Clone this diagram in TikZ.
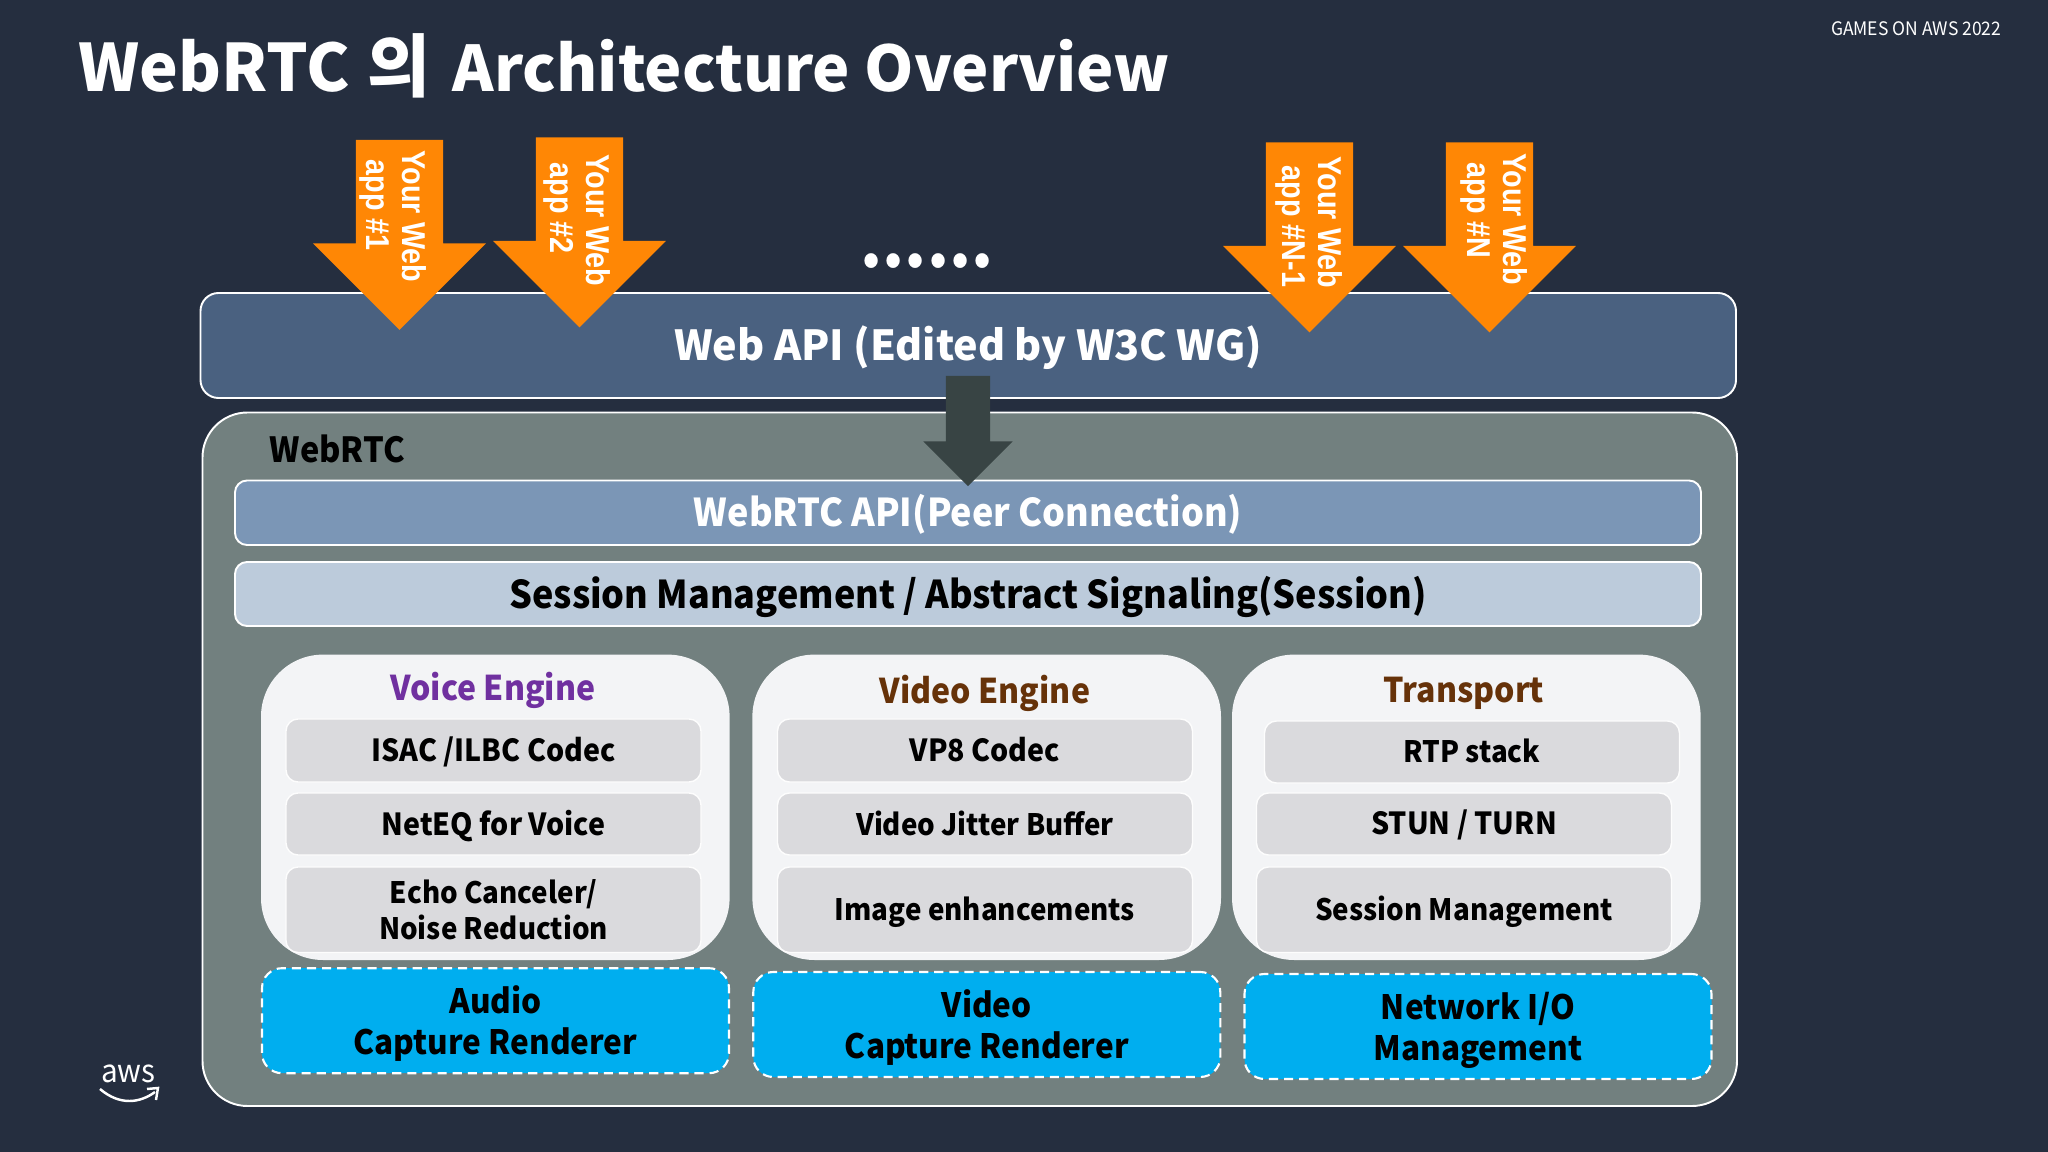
\documentclass[tikz,border=0pt]{standalone}
\usepackage{fontspec}
\setmainfont{Noto Sans CJK KR}[FakeStretch=0.94]
\newfontfamily\widefont{Noto Sans CJK KR}
\newfontfamily\appfont{Liberation Sans}[FakeStretch=0.87]
\usetikzlibrary{arrows.meta,shapes.arrows}
\definecolor{pagebg}{HTML}{252E3F}
\definecolor{webapifill}{HTML}{4A6180}
\definecolor{shellfill}{HTML}{72807F}
\definecolor{rtcapifill}{HTML}{7B96B6}
\definecolor{sessionfill}{HTML}{BCCBDB}
\definecolor{enginefill}{HTML}{F3F4F6}
\definecolor{itemfill}{HTML}{DADADD}
\definecolor{iofill}{HTML}{00AEEF}
\definecolor{apporange}{HTML}{FF8705}
\definecolor{downfill}{HTML}{384444}
\definecolor{voicetext}{HTML}{7030A0}
\definecolor{brownhead}{HTML}{663209}
\newcommand{\pxsize}[2]{\fontsize{#1pt}{#2pt}\selectfont}

\begin{document}
\begin{tikzpicture}[
    y=-1cm,
    band/.style={rectangle, draw=white, line width=0.55pt, rounded corners=0.12cm, inner sep=0pt, align=center, text depth=2pt, font=\pxsize{10.9}{14}\bfseries},
    engine/.style={rectangle, fill=enginefill, rounded corners=0.62cm, minimum width=4.686cm, minimum height=3.054cm},
    enginehead/.style={font=\pxsize{9.7}{12}\bfseries, inner sep=0pt},
    item/.style={rectangle, draw=white!95!itemfill, fill=itemfill, line width=0.4pt, rounded corners=0.12cm, minimum width=4.15cm, inner sep=0pt, align=center, text height=8.2pt, text depth=2pt, font=\pxsize{8.65}{10.5}\bfseries},
    itemsmall/.style={item, font=\pxsize{8.4}{10.5}\bfseries},
    iobox/.style={rectangle, draw=white, dash pattern=on 2.6pt off 1.7pt, fill=iofill, line width=0.6pt, rounded corners=0.2cm, minimum width=4.67cm, minimum height=1.05cm, inner sep=0pt, align=center, text height=21.1pt, text depth=2pt, font=\pxsize{9.55}{11.6}\bfseries},
    apparrow/.style={single arrow, fill=apporange, rotate=-90, inner xsep=0pt, inner ysep=0.43cm, minimum width=1.715cm, minimum height=1.9cm, single arrow head extend=0.4275cm, single arrow tip angle=90},
    applabel/.style={rotate=-90, anchor=north west, inner sep=0pt, align=left, text=white, font=\appfont\pxsize{9.4}{10.3}\bfseries}
]
    \path[fill=pagebg, use as bounding box] (0,0) rectangle (20.48,11.52);

    % heading
    \node[anchor=base west, inner sep=0pt, text=white, font=\widefont\pxsize{17.9}{22}\bfseries] (title) at (0.78,0.92) {{\pxsize{18.6}{22}WebRTC}\hspace{0.03cm} {\pxsize{19.5}{22}의}\hspace{0.08cm} Architecture Overview};
    \node[anchor=east, inner sep=0pt, text=white, font=\pxsize{5.3}{6}] (event) at (20.02,0.29) {GAMES ON AWS 2022};

    % main layers
    \node[band, fill=webapifill, text=white, rounded corners=0.18cm, minimum width=15.355cm, minimum height=1.05cm, text height=10.4pt, font=\widefont\pxsize{11.76}{14}\bfseries] (webapi) at (9.6825,3.455) {Web API (Edited by W3C WG)};
    \node[rectangle, draw=white, line width=0.55pt, fill=shellfill, rounded corners=0.45cm, minimum width=15.345cm, minimum height=6.935cm] (webrtc) at (9.6975,7.5925) {};
    \node[anchor=base west, inner sep=0pt, font=\pxsize{9.85}{12}\bfseries] (webrtclabel) at (2.69,4.625) {WebRTC};
    \node[band, fill=rtcapifill, text=white, minimum width=14.66cm, minimum height=0.645cm, text height=9.8pt] (rtcapi) at (9.68,5.1275) {WebRTC API(Peer Connection)};
    \node[band, fill=sessionfill, minimum width=14.66cm, minimum height=0.64cm, text height=10.1pt] (session) at (9.68,5.94) {Session Management / Abstract Signaling(Session)};

    % voice column
    \node[engine] (voice) at (4.953,8.073) {};
    \node[enginehead, text=voicetext] (voicehead) at (4.93,6.905) {Voice Engine};
    \node[item, minimum height=0.63cm] (isac) at (4.935,7.505) {ISAC /ILBC Codec};
    \node[item, minimum height=0.62cm, text height=8.6pt] (neteq) at (4.935,8.24) {NetEQ for Voice};
    \node[itemsmall, minimum height=0.855cm, text height=19.2pt] (echo) at (4.935,9.0975) {Echo Canceler/\\Noise Reduction};
    \node[iobox] (audio) at (4.955,10.207) {Audio\\Capture Renderer};

    % video column
    \node[engine] (video) at (9.867,8.073) {};
    \node[enginehead, text=brownhead] (videohead) at (9.85,6.935) {Video Engine};
    \node[item, minimum height=0.63cm] (vp8) at (9.85,7.505) {VP8 Codec};
    \node[itemsmall, minimum height=0.62cm, text height=8.6pt] (jitter) at (9.85,8.24) {Video Jitter Buffer};
    \node[itemsmall, minimum height=0.855cm] (image) at (9.85,9.0975) {Image enhancements};
    \node[iobox] (capture) at (9.868,10.245) {Video\\Capture Renderer};

    % transport column
    \node[engine] (transport) at (14.6635,8.073) {};
    \node[enginehead, text=brownhead] (transporthead) at (14.64,6.935) {Transport};
    \node[itemsmall, minimum height=0.62cm] (rtp) at (14.72,7.52) {RTP stack};
    \node[item, minimum height=0.62cm] (stun) at (14.64,8.24) {STUN / TURN};
    \node[itemsmall, minimum height=0.855cm] (sessmgmt) at (14.64,9.0975) {Session Management};
    \node[iobox] (network) at (14.78,10.265) {Network I/O\\Management};

    % arrows into the layers
    \node[apparrow] (app1) at (3.995,2.13) {};
    \node[apparrow] (app2) at (5.795,2.105) {};
    \node[apparrow] (app3) at (13.095,2.155) {};
    \node[apparrow] (app4) at (14.895,2.155) {};
    \node[applabel] (app1label) at (4.27,1.5) {Your Web\\\hspace*{0.09cm}app \#1};
    \node[applabel] (app2label) at (6.11,1.54) {Your Web\\\hspace*{0.08cm}app \#2};
    \node[applabel] (app3label) at (13.43,1.56) {Your Web\\\hspace*{0.09cm}app \#N-1};
    \node[applabel] (app4label) at (15.28,1.53) {Your Web\\\hspace*{0.09cm}app \#N};
    \node[anchor=base, inner sep=0pt, text=white, font=\pxsize{19}{24}\bfseries] (dots) at (9.27,2.68) {......};
    \node[single arrow, fill=downfill, rotate=-90, inner xsep=0pt, inner ysep=0.215cm, minimum width=0.88cm, minimum height=1.102cm, single arrow head extend=0.225cm, single arrow tip angle=90] (apidown) at (9.68,4.2) {};

    % logo
    \node[anchor=base, inner sep=0pt, text=white, font=\pxsize{9}{11}] (aws) at (1.285,10.82) {aws};
    \draw[white, line width=0.7pt] (1.0,10.89) .. controls (1.2,11.06) and (1.4,11.03) .. (1.55,10.92);
    \draw[white, line width=0.7pt] (1.47,10.89) -- (1.58,10.88) -- (1.56,11.0);
\end{tikzpicture}
\end{document}
